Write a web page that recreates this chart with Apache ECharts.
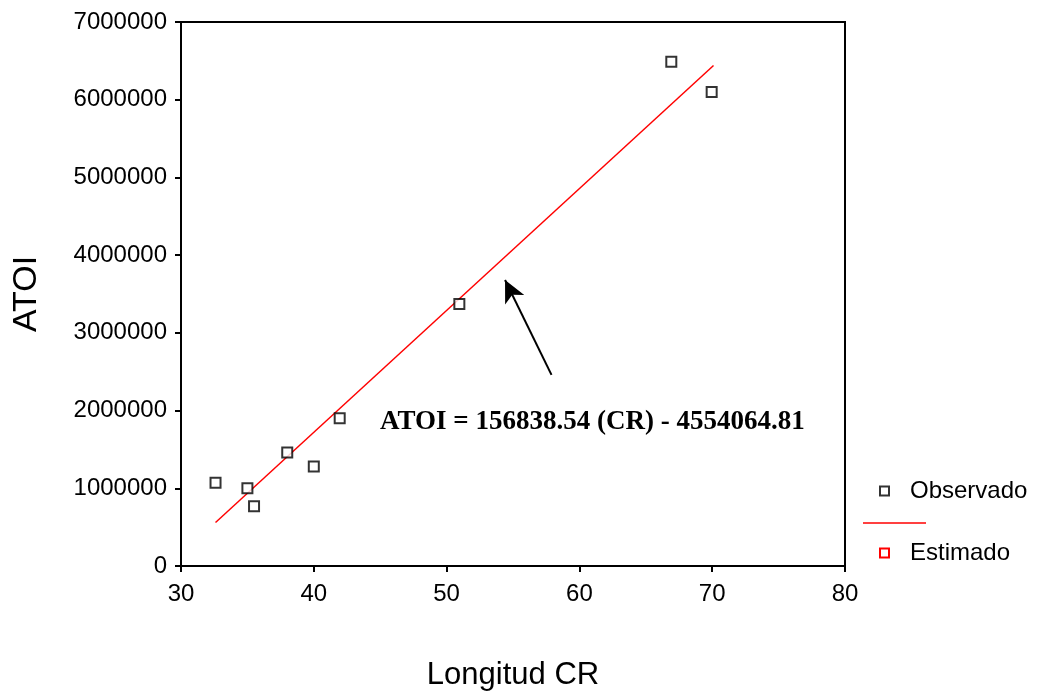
<!DOCTYPE html>
<html><head><meta charset="utf-8">
<script src="https://cdn.jsdelivr.net/npm/echarts@6/dist/echarts.min.js"></script>
<style>html,body{margin:0;padding:0;background:#fff}#c{width:1038px;height:697px}</style>
</head><body><div id="c"></div>
<script>
// Observed data (Longitud CR, ATOI)
const crValues = [32.6, 35.0, 35.5, 38.0, 40.0, 41.95, 50.96, 66.92, 69.96];
const atoiValues = [1070000, 1000000, 770000, 1460000, 1280000, 1900000, 3370000, 6490000, 6100000];
// Fit coefficients from the annotation
const slope = 156838.54;
const intercept = -4554064.81;
const equationText = 'ATOI = 156838.54 (CR) - 4554064.81';
const arrowFrom = [57.9, 2460000];
const arrowTo = [54.4, 3680000];

const observed = crValues.map((x, i) => [x, atoiValues[i]]);
const fitX = [32.6, 70.1];
const estimated = fitX.map(x => [x, slope * x + intercept]);

const chart = echarts.init(document.getElementById('c'));
chart.setOption({
  backgroundColor: '#fff',
  animation: false,
  grid: { left: 181, right: 193, top: 22, bottom: 131, show: true, borderColor: '#000', borderWidth: 2, backgroundColor: 'transparent' },
  xAxis: {
    type: 'value', min: 30, max: 80, interval: 10,
    name: 'Longitud CR', nameLocation: 'middle', nameGap: 94,
    nameTextStyle: { fontFamily: 'Liberation Sans', fontSize: 31, color: '#000' },
    axisLine: { lineStyle: { color: '#000', width: 2 } },
    axisTick: { show: true, length: 6, lineStyle: { color: '#000', width: 2 } },
    axisLabel: { fontFamily: 'Liberation Sans', fontSize: 24, color: '#000', margin: 16 },
    splitLine: { show: false }
  },
  yAxis: {
    type: 'value', min: 0, max: 7000000, interval: 1000000,
    name: 'ATOI', nameLocation: 'middle', nameGap: 137, nameRotate: 90,
    nameTextStyle: { fontFamily: 'Liberation Sans', fontSize: 34, color: '#000' },
    axisLine: { lineStyle: { color: '#000', width: 2 } },
    axisTick: { show: true, length: 6, lineStyle: { color: '#000', width: 2 } },
    axisLabel: { fontFamily: 'Liberation Sans', fontSize: 24, color: '#000', margin: 14, formatter: v => String(v) },
    splitLine: { show: false }
  },
  legend: {
    orient: 'vertical', left: 874, top: 474, itemGap: 38,
    itemWidth: 9, itemHeight: 9,
    textStyle: { fontFamily: 'Liberation Sans', fontSize: 24, color: '#000', padding: [0, 0, 0, 16] },
    data: [
      { name: 'Observado', icon: 'rect', itemStyle: { color: '#fff', borderColor: '#000', borderWidth: 2 } },
      { name: 'Estimado', icon: 'rect', itemStyle: { color: '#fff', borderColor: '#f00', borderWidth: 2 } }
    ]
  },
  graphic: [
    { type: 'line', shape: { x1: 863, y1: 523, x2: 926, y2: 523 }, style: { stroke: '#f00', lineWidth: 1.5 } },
    { type: 'text', left: 380, top: 409, style: { text: equationText, font: 'bold 27px "Liberation Serif"', fill: '#000' } }
  ],
  series: [
    {
      name: 'Observado', type: 'scatter', data: observed,
      symbol: 'rect', symbolSize: 10,
      itemStyle: { color: '#fff', borderColor: '#000', borderWidth: 2 },
      z: 3
    },
    {
      name: 'Estimado', type: 'line', data: estimated,
      showSymbol: false, symbol: 'rect',
      lineStyle: { color: '#f00', width: 1.5 },
      itemStyle: { color: '#fff', borderColor: '#f00', borderWidth: 2 },
      markLine: {
        silent: true, symbol: ['none', 'arrow'], symbolSize: [16, 22],
        label: { show: false },
        lineStyle: { color: '#000', width: 2, type: 'solid' },
        data: [[{ coord: arrowFrom }, { coord: arrowTo }]]
      },
      z: 2
    }
  ]
});
</script>
</body></html>
